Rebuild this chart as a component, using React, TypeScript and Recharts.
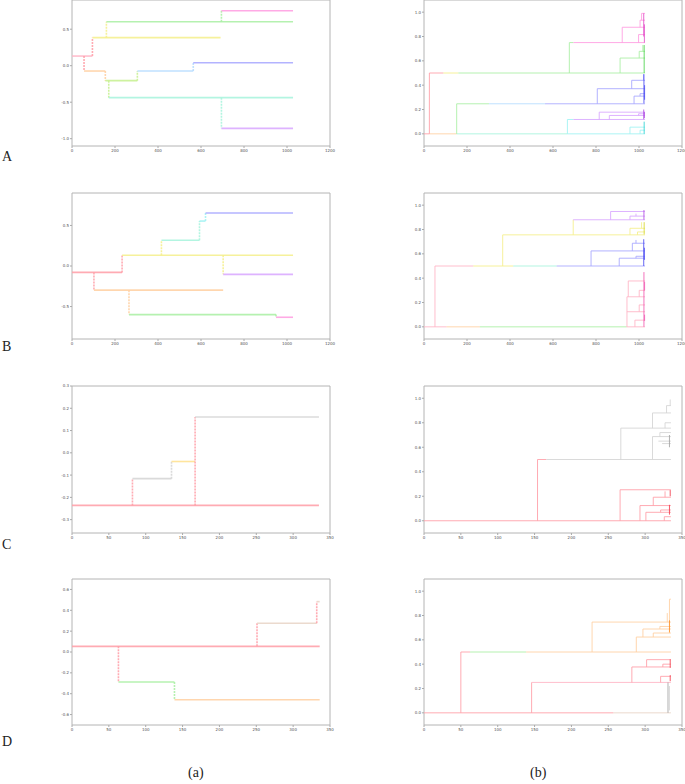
import { ComposedChart, XAxis, YAxis, ReferenceLine, ReferenceArea } from 'recharts'

// segment = [x1, y1, x2, y2, colour key]
type Seg = [number, number, number, number, string]

const palette: Record<string, string> = {
  pink: '#ffb3c4',
  red: '#ff9ca6',
  orange: '#ffcfa0',
  yellow: '#f4ee8a',
  gold: '#ffe08c',
  green: '#a8eea2',
  lime: '#c6f08e',
  aqua: '#a6f3dc',
  cyan: '#9ef2f2',
  sky: '#b4daff',
  blue: '#a6a6ff',
  purple: '#d8a6ff',
  magenta: '#ff9be0',
  gray: '#d4d4d4',
  tan: '#e8d4c6',
  magentaD: '#e24cc8',
  blueD: '#4c4cf2',
  purpleD: '#b24ee2',
  cyanD: '#2ed2d2',
  greenD: '#4cd24c',
  yellowD: '#d6d62e',
  pinkD: '#f25cb2',
  redD: '#f23c4c',
  orangeD: '#ff8c1e',
  grayD: '#a2a2a2',
}

const ticks1200 = [0, 200, 400, 600, 800, 1000, 1200]
const ticks350 = [0, 50, 100, 150, 200, 250, 300, 350]
const ticksUnit = [0, 0.2, 0.4, 0.6, 0.8, 1.0]

const treeAa: Seg[] = [
  [0, 0.132, 95, 0.132, 'pink'],
  [56, 0.132, 56, -0.073, 'red'],
  [95, 0.132, 95, 0.384, 'red'],
  [95, 0.384, 691, 0.384, 'yellow'],
  [160, 0.384, 160, 0.603, 'yellow'],
  [160, 0.603, 1028, 0.603, 'green'],
  [695, 0.603, 695, 0.753, 'green'],
  [695, 0.753, 1028, 0.753, 'magenta'],
  [56, -0.073, 155, -0.073, 'orange'],
  [155, -0.073, 155, -0.205, 'orange'],
  [155, -0.205, 304, -0.205, 'lime'],
  [171, -0.205, 171, -0.438, 'lime'],
  [171, -0.438, 1028, -0.438, 'aqua'],
  [304, -0.205, 304, -0.073, 'lime'],
  [304, -0.073, 564, -0.073, 'sky'],
  [564, -0.073, 564, 0.041, 'sky'],
  [564, 0.041, 1028, 0.041, 'blue'],
  [695, -0.438, 695, -0.858, 'aqua'],
  [695, -0.858, 1028, -0.858, 'purple'],
]

const treeAb: Seg[] = [
  [0, 0, 25, 0, 'red'], [25, 0, 152, 0, 'orange'], [152, 0, 667, 0, 'aqua'], [667, 0, 1028, 0, 'cyan'],
  [25, 0, 25, 0.5, 'red'],
  [25, 0.5, 90, 0.5, 'red'], [90, 0.5, 160, 0.5, 'yellow'], [160, 0.5, 1028, 0.5, 'green'],
  [152, 0, 152, 0.247, 'green'],
  [152, 0.247, 302, 0.247, 'green'], [302, 0.247, 563, 0.247, 'sky'], [563, 0.247, 1028, 0.247, 'blue'],
  [676, 0.5, 676, 0.75, 'green'], [676, 0.75, 695, 0.75, 'green'], [695, 0.75, 1028, 0.75, 'magenta'],
  [922, 0.75, 922, 0.876, 'magenta'], [922, 0.876, 1028, 0.876, 'magenta'],
  [998, 0.75, 998, 0.816, 'magenta'], [998, 0.816, 1028, 0.816, 'magenta'],
  [1005, 0.876, 1005, 0.934, 'magenta'], [1005, 0.934, 1028, 0.934, 'magenta'],
  [1012, 0.934, 1012, 0.99, 'magenta'], [1012, 0.99, 1028, 0.99, 'magenta'],
  [912, 0.5, 912, 0.623, 'green'], [912, 0.623, 1028, 0.623, 'green'],
  [1001, 0.623, 1001, 0.678, 'green'], [1001, 0.678, 1028, 0.678, 'green'],
  [1018, 0.678, 1018, 0.73, 'green'],
  [806, 0.247, 806, 0.371, 'blue'], [806, 0.371, 1028, 0.371, 'blue'],
  [966, 0.371, 966, 0.44, 'blue'], [966, 0.44, 1028, 0.44, 'blue'],
  [1021, 0.44, 1021, 0.49, 'blue'],
  [977, 0.247, 977, 0.31, 'blue'], [977, 0.31, 1028, 0.31, 'blue'],
  [1005, 0.31, 1005, 0.33, 'blue'], [1005, 0.33, 1028, 0.33, 'blue'],
  [667, 0, 667, 0.118, 'cyan'], [667, 0.118, 695, 0.118, 'cyan'], [695, 0.118, 1028, 0.118, 'purple'],
  [815, 0.118, 815, 0.178, 'purple'], [815, 0.178, 1028, 0.178, 'purple'],
  [862, 0.118, 862, 0.151, 'purple'], [862, 0.151, 1028, 0.151, 'purple'],
  [998, 0.151, 998, 0.165, 'purple'], [998, 0.165, 1028, 0.165, 'purple'],
  [958, 0, 958, 0.055, 'cyan'], [958, 0.055, 1028, 0.055, 'cyan'],
  [1005, 0, 1005, 0.03, 'cyan'], [1005, 0.03, 1028, 0.03, 'cyan'],
  [1022, 0.8, 1022, 0.99, 'magentaD'], [1025, 0.75, 1025, 0.9, 'magentaD'],
  [1024, 0.5, 1024, 0.73, 'greenD'],
  [1023, 0.25, 1023, 0.49, 'blueD'], [1026, 0.28, 1026, 0.4, 'blueD'],
  [1022, 0.12, 1022, 0.2, 'purpleD'], [1025, 0.13, 1025, 0.18, 'purpleD'],
  [1024, 0, 1024, 0.1, 'cyanD'],
]

const treeBa: Seg[] = [
  [0, -0.079, 233, -0.079, 'red'],
  [102, -0.079, 102, -0.298, 'red'],
  [102, -0.298, 703, -0.298, 'orange'],
  [265, -0.298, 265, -0.599, 'orange'],
  [265, -0.599, 949, -0.599, 'green'],
  [949, -0.599, 949, -0.632, 'green'],
  [949, -0.632, 1028, -0.632, 'magenta'],
  [233, -0.079, 233, 0.132, 'red'],
  [233, 0.132, 1028, 0.132, 'yellow'],
  [416, 0.132, 416, 0.318, 'yellow'],
  [416, 0.318, 593, 0.318, 'aqua'],
  [593, 0.318, 593, 0.554, 'aqua'],
  [593, 0.554, 621, 0.554, 'cyan'],
  [621, 0.554, 621, 0.653, 'cyan'],
  [621, 0.653, 1028, 0.653, 'blue'],
  [703, 0.132, 703, -0.103, 'yellow'],
  [703, -0.103, 1028, -0.103, 'purple'],
]

const treeBb: Seg[] = [
  [0, 0, 105, 0, 'pink'], [105, 0, 260, 0, 'orange'], [260, 0, 943, 0, 'green'], [943, 0, 1028, 0, 'pink'],
  [51, 0, 51, 0.5, 'pink'],
  [51, 0.5, 229, 0.5, 'pink'], [229, 0.5, 415, 0.5, 'yellow'], [415, 0.5, 617, 0.5, 'aqua'], [617, 0.5, 1028, 0.5, 'blue'],
  [366, 0.5, 366, 0.756, 'yellow'], [366, 0.756, 1028, 0.756, 'yellow'],
  [694, 0.756, 694, 0.88, 'yellow'], [694, 0.88, 1028, 0.88, 'purple'],
  [868, 0.88, 868, 0.948, 'purple'], [868, 0.948, 1028, 0.948, 'purple'],
  [958, 0.88, 958, 0.91, 'purple'], [958, 0.91, 1028, 0.91, 'purple'],
  [986, 0.91, 986, 0.93, 'purple'],
  [958, 0.756, 958, 0.81, 'yellow'], [958, 0.81, 1028, 0.81, 'yellow'],
  [993, 0.756, 993, 0.78, 'yellow'], [993, 0.78, 1028, 0.78, 'yellow'],
  [1012, 0.81, 1012, 0.86, 'yellow'],
  [777, 0.5, 777, 0.624, 'blue'], [777, 0.624, 1028, 0.624, 'blue'],
  [908, 0.5, 908, 0.564, 'blue'], [908, 0.564, 1028, 0.564, 'blue'],
  [969, 0.624, 969, 0.687, 'blue'], [969, 0.687, 1028, 0.687, 'blue'],
  [986, 0.687, 986, 0.714, 'blue'],
  [986, 0.564, 986, 0.58, 'blue'], [986, 0.58, 1028, 0.58, 'blue'],
  [944, 0, 944, 0.247, 'pink'], [944, 0.247, 1028, 0.247, 'pink'],
  [944, 0.124, 1028, 0.124, 'pink'],
  [950, 0.247, 950, 0.377, 'pink'], [950, 0.377, 1028, 0.377, 'pink'],
  [981, 0, 981, 0.055, 'pink'], [981, 0.055, 1028, 0.055, 'pink'],
  [1001, 0.124, 1001, 0.18, 'pink'], [1001, 0.18, 1028, 0.18, 'pink'],
  [1001, 0.247, 1001, 0.3, 'pink'], [1001, 0.3, 1028, 0.3, 'pink'],
  [1023, 0.88, 1023, 0.96, 'purpleD'], [1024, 0.76, 1024, 0.86, 'yellowD'],
  [1022, 0.5, 1022, 0.72, 'blueD'], [1025, 0.55, 1025, 0.65, 'blueD'],
  [1023, 0, 1023, 0.45, 'pinkD'], [1026, 0.05, 1026, 0.1, 'pinkD'], [1026, 0.3, 1026, 0.37, 'pinkD'],
]

const treeCa: Seg[] = [
  [0, -0.236, 335, -0.236, 'red'],
  [82, -0.236, 82, -0.116, 'red'],
  [82, -0.116, 135, -0.116, 'gray'],
  [135, -0.116, 135, -0.039, 'gray'],
  [135, -0.039, 167, -0.039, 'gold'],
  [167, -0.236, 167, 0.161, 'red'],
  [167, 0.161, 335, 0.161, 'gray'],
]

const treeCb: Seg[] = [
  [0, 0, 335, 0, 'red'],
  [154, 0, 154, 0.5, 'red'], [154, 0.5, 166, 0.5, 'red'], [166, 0.5, 335, 0.5, 'gray'],
  [267, 0.5, 267, 0.756, 'gray'], [267, 0.756, 335, 0.756, 'gray'],
  [310, 0.5, 310, 0.687, 'gray'], [310, 0.687, 335, 0.687, 'gray'],
  [310, 0.756, 310, 0.88, 'gray'], [310, 0.88, 335, 0.88, 'gray'],
  [329, 0.88, 329, 0.94, 'gray'], [329, 0.94, 335, 0.94, 'gray'],
  [334, 0.94, 334, 0.99, 'gray'],
  [320, 0.687, 320, 0.72, 'gray'], [320, 0.72, 335, 0.72, 'gray'],
  [327, 0.756, 327, 0.8, 'gray'], [327, 0.8, 335, 0.8, 'gray'],
  [318, 0.65, 335, 0.65, 'gray'], [323, 0.63, 335, 0.63, 'gray'], [333, 0.6, 333, 0.7, 'grayD'],
  [266, 0, 266, 0.253, 'red'], [266, 0.253, 335, 0.253, 'red'],
  [293, 0, 293, 0.124, 'red'], [293, 0.124, 335, 0.124, 'red'],
  [301, 0, 301, 0.069, 'red'], [301, 0.069, 335, 0.069, 'red'],
  [311, 0.124, 311, 0.192, 'red'], [311, 0.192, 335, 0.192, 'red'],
  [327, 0.192, 327, 0.24, 'red'],
  [321, 0.069, 321, 0.088, 'red'], [321, 0.088, 335, 0.088, 'red'],
  [326, 0, 326, 0.033, 'red'], [326, 0.033, 335, 0.033, 'red'],
  [333, 0.05, 333, 0.13, 'redD'], [334, 0.2, 334, 0.25, 'redD'],
]

const treeDa: Seg[] = [
  [0, 0.054, 336, 0.054, 'red'],
  [63, 0.054, 63, -0.288, 'red'],
  [63, -0.288, 139, -0.288, 'green'],
  [139, -0.288, 139, -0.458, 'green'],
  [139, -0.458, 336, -0.458, 'orange'],
  [251, 0.054, 251, 0.275, 'red'],
  [251, 0.275, 332, 0.275, 'tan'],
  [332, 0.275, 332, 0.483, 'red'],
  [332, 0.483, 336, 0.483, 'tan'],
]

const treeDb: Seg[] = [
  [0, 0, 257, 0, 'red'], [257, 0, 335, 0, 'tan'],
  [50, 0, 50, 0.5, 'red'], [50, 0.5, 62.5, 0.5, 'red'], [62.5, 0.5, 138.6, 0.5, 'green'], [138.6, 0.5, 335, 0.5, 'orange'],
  [146, 0, 146, 0.25, 'red'], [146, 0.25, 335, 0.25, 'pink'],
  [228, 0.5, 228, 0.746, 'orange'], [228, 0.746, 335, 0.746, 'orange'],
  [288, 0.5, 288, 0.623, 'orange'], [288, 0.623, 335, 0.623, 'orange'],
  [297, 0.623, 297, 0.689, 'orange'], [297, 0.689, 335, 0.689, 'orange'],
  [311, 0.623, 311, 0.656, 'orange'], [311, 0.656, 335, 0.656, 'orange'],
  [320, 0.689, 320, 0.71, 'orange'], [320, 0.71, 335, 0.71, 'orange'],
  [333, 0.746, 333, 0.934, 'orange'], [333, 0.934, 335, 0.934, 'orange'],
  [330, 0.746, 330, 0.82, 'orange'],
  [282, 0.25, 282, 0.377, 'red'], [282, 0.377, 335, 0.377, 'red'],
  [302, 0.377, 302, 0.437, 'red'], [302, 0.437, 335, 0.437, 'red'],
  [321, 0.25, 321, 0.3, 'red'], [321, 0.3, 335, 0.3, 'red'],
  [324, 0.377, 324, 0.4, 'red'], [324, 0.4, 335, 0.4, 'red'],
  [333, 0.66, 333, 0.76, 'orangeD'], [334, 0.37, 334, 0.44, 'redD'], [334, 0.26, 334, 0.31, 'redD'],
  [331, 0, 331, 0.25, 'grayD'], [333, 0.02, 333, 0.22, 'gray'],
]

interface PanelProps {
  left: number
  top: number
  w: number
  h: number
  xDomain: [number, number]
  yDomain: [number, number]
  xTicks: number[]
  yTicks: number[]
  segs: Seg[]
  dashed?: boolean
}

const AXIS_W = 14
const AXIS_H = 10
const RIGHT_PAD = 8
const tickStyle = { fontSize: 4, fill: '#555', fontFamily: 'DejaVu Sans' }

function Panel({ left, top, w, h, xDomain, yDomain, xTicks, yTicks, segs, dashed }: PanelProps) {
  const corners = [
    { x: xDomain[0], y: yDomain[0] },
    { x: xDomain[1], y: yDomain[1] },
  ]
  return (
    <div style={{ position: 'absolute', left: left - AXIS_W, top: top - 2 }}>
      <ComposedChart
        width={w + AXIS_W + RIGHT_PAD}
        height={h + AXIS_H + 2}
        data={corners}
        margin={{ top: 2, right: RIGHT_PAD, bottom: 0, left: 0 }}
        style={{ overflow: 'visible' }}
      >
        <XAxis
          type="number"
          dataKey="x"
          domain={xDomain}
          ticks={xTicks}
          allowDataOverflow
          height={AXIS_H}
          axisLine={false}
          tickSize={2}
          tickMargin={1}
          tickLine={{ stroke: '#aaa' }}
          tick={tickStyle}
          interval={0}
        />
        <YAxis
          type="number"
          dataKey="y"
          domain={yDomain}
          ticks={yTicks}
          allowDataOverflow
          width={AXIS_W}
          axisLine={false}
          tickSize={2}
          tickMargin={1}
          tickLine={{ stroke: '#aaa' }}
          tick={tickStyle}
          interval={0}
          tickFormatter={(v: number) => v.toFixed(1)}
        />
        <ReferenceArea
          x1={xDomain[0]}
          x2={xDomain[1]}
          y1={yDomain[0]}
          y2={yDomain[1]}
          fill="none"
          stroke="#b4b4b4"
          strokeWidth={1}
          ifOverflow="visible"
        />
        {segs.map((s, i) => {
          const vertical = s[0] === s[2]
          return (
            <ReferenceLine
              key={i}
              segment={[{ x: s[0], y: s[1] }, { x: s[2], y: s[3] }]}
              stroke={palette[s[4]]}
              strokeOpacity={0.85}
              strokeWidth={dashed ? 1.6 : 1}
              strokeDasharray={dashed && vertical ? '2 1' : undefined}
              ifOverflow="visible"
            />
          )
        })}
      </ComposedChart>
    </div>
  )
}

const letterStyle = {
  position: 'absolute' as const,
  fontFamily: 'Liberation Serif, DejaVu Serif, serif',
  fontSize: 14,
  color: '#222',
}

export default function App() {
  return (
    <div style={{ position: 'absolute', left: 0, top: 0, width: 685, height: 784, background: '#fff', overflow: 'hidden' }}>
      <Panel left={72} top={0} w={258} h={146} xDomain={[0, 1200]} yDomain={[-1.1, 0.9]} xTicks={ticks1200} yTicks={[-1.0, -0.5, 0.0, 0.5]} segs={treeAa} dashed />
      <Panel left={424} top={0} w={258} h={146} xDomain={[0, 1200]} yDomain={[-0.1, 1.1]} xTicks={ticks1200} yTicks={ticksUnit} segs={treeAb} />
      <Panel left={72} top={193} w={258} h={146} xDomain={[0, 1200]} yDomain={[-0.9, 0.9]} xTicks={ticks1200} yTicks={[-0.5, 0.0, 0.5]} segs={treeBa} dashed />
      <Panel left={424} top={193} w={258} h={146} xDomain={[0, 1200]} yDomain={[-0.1, 1.1]} xTicks={ticks1200} yTicks={ticksUnit} segs={treeBb} />
      <Panel left={72} top={386} w={258} h={147} xDomain={[0, 350]} yDomain={[-0.36, 0.3]} xTicks={ticks350} yTicks={[-0.3, -0.2, -0.1, 0.0, 0.1, 0.2, 0.3]} segs={treeCa} dashed />
      <Panel left={424} top={386} w={258} h={147} xDomain={[0, 350]} yDomain={[-0.1, 1.1]} xTicks={ticks350} yTicks={ticksUnit} segs={treeCb} />
      <Panel left={72} top={579} w={258} h={146} xDomain={[0, 350]} yDomain={[-0.7, 0.7]} xTicks={ticks350} yTicks={[-0.6, -0.4, -0.2, 0.0, 0.2, 0.4, 0.6]} segs={treeDa} dashed />
      <Panel left={424} top={579} w={258} h={146} xDomain={[0, 350]} yDomain={[-0.1, 1.1]} xTicks={ticks350} yTicks={ticksUnit} segs={treeDb} />

      <div style={{ ...letterStyle, left: 2, top: 149 }}>A</div>
      <div style={{ ...letterStyle, left: 2, top: 339 }}>B</div>
      <div style={{ ...letterStyle, left: 2, top: 537 }}>C</div>
      <div style={{ ...letterStyle, left: 2, top: 734 }}>D</div>
      <div style={{ ...letterStyle, left: 188, top: 765 }}>(a)</div>
      <div style={{ ...letterStyle, left: 530, top: 765 }}>(b)</div>
    </div>
  )
}
